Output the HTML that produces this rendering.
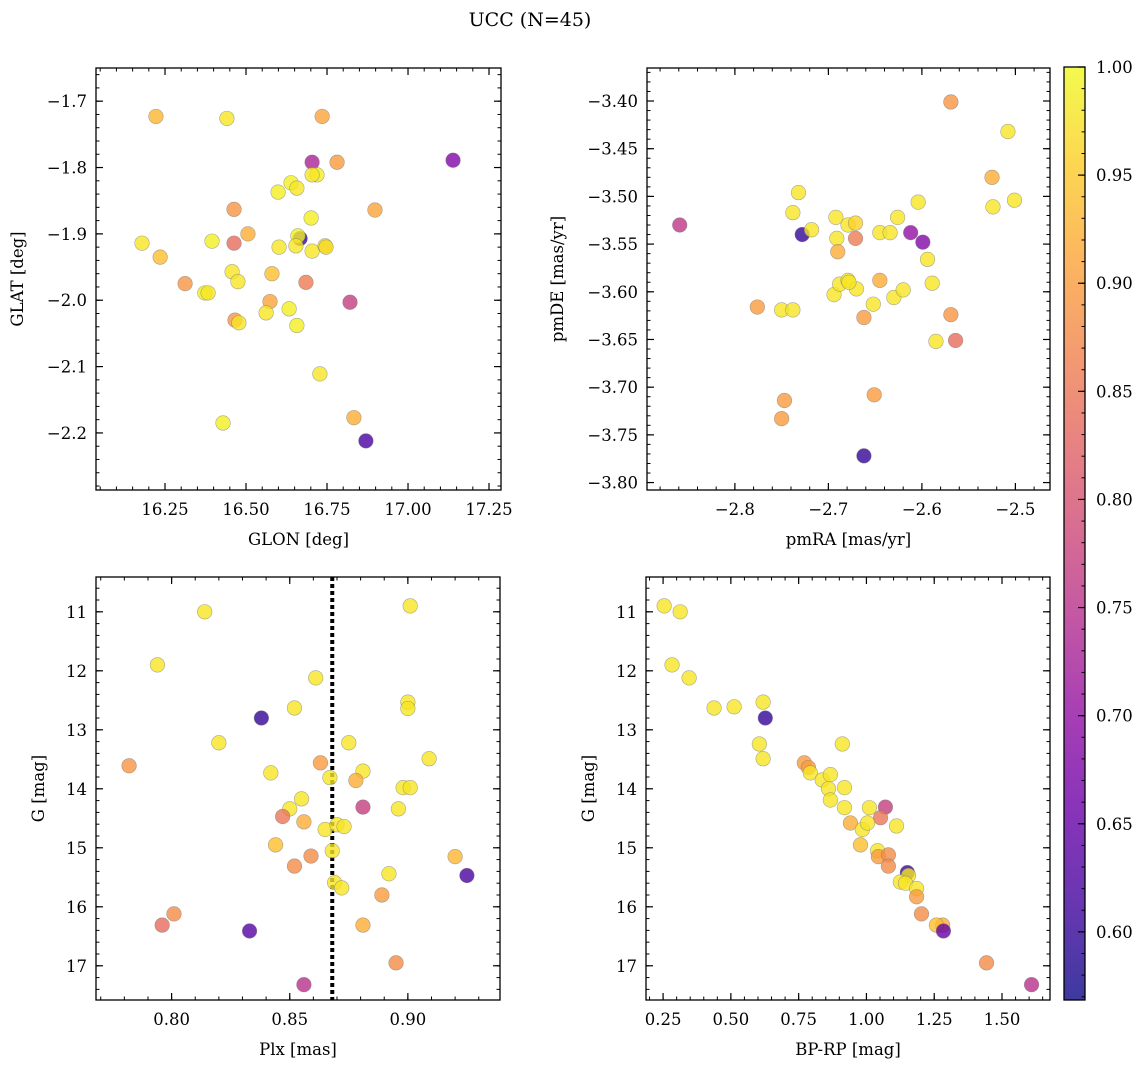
<!DOCTYPE html>
<html><head><meta charset="utf-8"><style>
html,body{margin:0;padding:0;background:#fff;}
svg{display:block;font-family:"DejaVu Serif","Liberation Serif",serif;}
</style></head><body>
<svg id="fig" width="1148" height="1067" viewBox="0 0 1148 1067" xmlns="http://www.w3.org/2000/svg">
<text x="530" y="26" font-size="19" text-anchor="middle">UCC (N=45)</text>
</svg>
<script>
// ---- Panel 1: GLON vs GLAT ----
const glonVals=[16.667,16.222,16.441,16.735,17.139,16.704,16.781,16.719,16.704,16.639,16.657,16.599,16.463,16.898,16.701,16.179,16.395,16.463,16.506,16.660,16.654,16.602,16.235,16.704,16.744,16.312,16.457,16.580,16.475,16.685,16.373,16.383,16.574,16.821,16.562,16.633,16.466,16.478,16.657,16.728,16.833,16.429,16.870,16.747];
const glatVals=[-1.907,-1.723,-1.726,-1.723,-1.789,-1.792,-1.792,-1.811,-1.811,-1.823,-1.831,-1.837,-1.863,-1.864,-1.876,-1.914,-1.911,-1.914,-1.900,-1.903,-1.918,-1.920,-1.935,-1.926,-1.918,-1.975,-1.957,-1.960,-1.972,-1.973,-1.989,-1.989,-2.002,-2.003,-2.019,-2.013,-2.030,-2.034,-2.038,-2.111,-2.177,-2.185,-2.212,-1.920];
const probP1=[0.60,0.93,0.98,0.91,0.68,0.73,0.90,0.99,0.98,0.99,0.98,0.99,0.89,0.91,0.99,0.98,0.99,0.84,0.92,0.99,0.98,0.98,0.94,0.98,0.97,0.89,0.98,0.94,0.98,0.86,0.99,0.98,0.91,0.77,0.98,0.99,0.89,0.98,0.99,0.98,0.92,0.99,0.62,0.97];
const glonTicks=[16.25,16.50,16.75,17.00,17.25];
const glatTicks=[-1.7,-1.8,-1.9,-2.0,-2.1,-2.2];
// ---- Panel 2: pmRA vs pmDE ----
const pmraVals=[-2.569,-2.508,-2.525,-2.524,-2.501,-2.859,-2.732,-2.738,-2.728,-2.718,-2.692,-2.679,-2.671,-2.671,-2.691,-2.690,-2.645,-2.634,-2.626,-2.604,-2.612,-2.599,-2.594,-2.589,-2.585,-2.569,-2.564,-2.776,-2.750,-2.738,-2.694,-2.688,-2.679,-2.670,-2.645,-2.662,-2.652,-2.630,-2.620,-2.651,-2.747,-2.750,-2.662,-2.678];
const pmdeVals=[-3.401,-3.432,-3.480,-3.511,-3.504,-3.530,-3.496,-3.517,-3.540,-3.535,-3.522,-3.530,-3.528,-3.544,-3.544,-3.558,-3.538,-3.538,-3.522,-3.506,-3.538,-3.548,-3.566,-3.591,-3.652,-3.624,-3.651,-3.616,-3.619,-3.619,-3.603,-3.592,-3.588,-3.597,-3.588,-3.627,-3.613,-3.606,-3.598,-3.708,-3.714,-3.733,-3.772,-3.590];
const probP2=[0.89,0.98,0.92,0.98,0.98,0.76,0.98,0.98,0.60,0.98,0.98,0.98,0.96,0.86,0.98,0.92,0.98,0.98,0.98,0.98,0.70,0.68,0.98,0.98,0.98,0.89,0.84,0.90,0.98,0.98,0.98,0.98,0.98,0.98,0.92,0.90,0.98,0.98,0.98,0.90,0.90,0.90,0.60,0.98];
const pmraTicks=[-2.8,-2.7,-2.6,-2.5];
const pmdeTicks=[-3.40,-3.45,-3.50,-3.55,-3.60,-3.65,-3.70,-3.75,-3.80];
// ---- Panel 3: Plx vs G ----
const plxVals=[0.901,0.814,0.794,0.861,0.900,0.900,0.852,0.838,0.820,0.875,0.909,0.782,0.863,0.867,0.842,0.881,0.878,0.898,0.901,0.896,0.881,0.855,0.850,0.847,0.856,0.844,0.859,0.852,0.865,0.870,0.873,0.868,0.920,0.925,0.892,0.869,0.872,0.889,0.881,0.801,0.796,0.833,0.895,0.856];
const gValsP3=[10.90,11.00,11.90,12.12,12.53,12.64,12.63,12.80,13.22,13.22,13.49,13.61,13.56,13.81,13.73,13.70,13.86,13.98,13.98,14.34,14.31,14.17,14.34,14.47,14.56,14.95,15.14,15.31,14.69,14.61,14.64,15.05,15.15,15.47,15.44,15.59,15.68,15.80,16.31,16.12,16.31,16.41,16.95,17.32];
const probP3=[0.98,0.98,0.98,0.98,0.98,0.98,0.98,0.60,0.98,0.98,0.98,0.89,0.90,0.98,0.98,0.98,0.92,0.98,0.98,0.98,0.77,0.98,0.98,0.85,0.92,0.94,0.88,0.88,0.98,0.98,0.98,0.98,0.93,0.62,0.98,0.98,0.98,0.90,0.92,0.88,0.84,0.63,0.88,0.75];
const plxTicks=[0.80,0.85,0.90];
const plxMedian=[0.868];
const gTicks=[11,12,13,14,15,16,17];
// ---- Panel 4: BP-RP vs G ----
const bprpVals=[0.254,0.313,0.283,0.346,0.438,0.512,0.619,0.627,0.605,0.619,0.771,0.786,0.793,0.911,0.837,0.867,0.860,0.867,0.919,0.919,0.941,1.011,1.070,1.052,1.111,0.985,1.004,0.978,1.041,1.044,1.081,1.081,1.151,1.155,1.125,1.144,1.185,1.185,1.203,1.281,1.258,1.284,1.443,1.609];
const gValsP4=[10.90,11.00,11.90,12.12,12.63,12.61,12.53,12.80,13.24,13.49,13.56,13.64,13.73,13.24,13.85,13.76,14.00,14.19,13.98,14.32,14.58,14.32,14.31,14.49,14.63,14.69,14.58,14.95,15.05,15.15,15.12,15.31,15.42,15.47,15.58,15.60,15.69,15.83,16.12,16.31,16.31,16.41,16.95,17.32];
const probP4=[0.98,0.98,0.98,0.98,0.98,0.98,0.98,0.60,0.98,0.98,0.90,0.90,0.98,0.98,0.98,0.98,0.98,0.98,0.98,0.98,0.92,0.98,0.77,0.85,0.98,0.98,0.98,0.94,0.98,0.90,0.88,0.88,0.60,0.98,0.98,0.98,0.98,0.90,0.88,0.92,0.94,0.65,0.88,0.75];
const bprpTicks=[0.25,0.50,0.75,1.00,1.25,1.50];
// ---- Colorbar ----
const cbarTicks=[1.00,0.95,0.90,0.85,0.80,0.75,0.70,0.65,0.60];
const cbarRange=[0.5685,1.0];

const NS="http://www.w3.org/2000/svg";
const svg=document.getElementById('fig');
function mk(tag,attrs,parent){const e=document.createElementNS(NS,tag);for(const k in attrs)e.setAttribute(k,attrs[k]);(parent||svg).appendChild(e);return e;}
const plasma=[[13,8,135],[65,4,157],[106,0,168],[143,13,164],[177,42,144],[204,71,120],[225,100,98],[242,132,75],[252,166,54],[252,206,37],[240,249,33]];
function cmap(v){let t=(v-cbarRange[0])/(cbarRange[1]-cbarRange[0]);t=Math.max(0,Math.min(1,t));const f=t*10,i=Math.min(9,Math.floor(f)),r=f-i;const a=plasma[i],b=plasma[i+1];return 'rgb('+a.map((c,k)=>Math.round(c+(b[k]-c)*r)).join(',')+')';}
function fmt(v,d){return (v<0?'\u2212':'')+Math.abs(v).toFixed(d);}
const TF=16.5, LF=16.5;

function panel(o){
  const g=mk('g',{});
  
  
  const sx=v=>o.L+(v-o.xd[0])/(o.xd[1]-o.xd[0])*(o.R-o.L);
  const sy=v=>o.T+(v-o.yd[0])/(o.yd[1]-o.yd[0])*(o.B-o.T);
  const eps=1e-9;
  let lo=Math.min(o.xd[0],o.xd[1]),hi=Math.max(o.xd[0],o.xd[1]);
  for(let v=Math.ceil(lo/o.xm-eps)*o.xm;v<=hi+eps;v+=o.xm){const x=sx(v);
    mk('line',{x1:x,x2:x,y1:o.B,y2:o.B-3.5,stroke:'#000','stroke-width':1},g);
    mk('line',{x1:x,x2:x,y1:o.T,y2:o.T+3.5,stroke:'#000','stroke-width':1},g);}
  lo=Math.min(o.yd[0],o.yd[1]);hi=Math.max(o.yd[0],o.yd[1]);
  for(let v=Math.ceil(lo/o.ym-eps)*o.ym;v<=hi+eps;v+=o.ym){const y=sy(v);
    mk('line',{x1:o.L,x2:o.L+3.5,y1:y,y2:y,stroke:'#000','stroke-width':1},g);
    mk('line',{x1:o.R,x2:o.R-3.5,y1:y,y2:y,stroke:'#000','stroke-width':1},g);}
  o.xt.forEach(v=>{const x=sx(v);
    mk('line',{x1:x,x2:x,y1:o.B,y2:o.B-7,stroke:'#000','stroke-width':1.2},g);
    mk('line',{x1:x,x2:x,y1:o.T,y2:o.T+7,stroke:'#000','stroke-width':1.2},g);
    const t=mk('text',{x:x,y:o.B+25,'font-size':TF,'text-anchor':'middle'},g);t.textContent=fmt(v,o.xdp);
    
    });
  o.yt.forEach(v=>{const y=sy(v);
    mk('line',{x1:o.L,x2:o.L+7,y1:y,y2:y,stroke:'#000','stroke-width':1.2},g);
    mk('line',{x1:o.R,x2:o.R-7,y1:y,y2:y,stroke:'#000','stroke-width':1.2},g);
    const t=mk('text',{x:o.L-9,y:y+6,'font-size':TF,'text-anchor':'end'},g);t.textContent=fmt(v,o.ydp);
    
    });
  if(o.vline){o.vline.forEach(v=>{const x=sx(v);const l=mk('line',{x1:x,x2:x,y1:o.T,y2:o.B,stroke:'#000','stroke-width':4,'stroke-dasharray':'4,3'},g);
    
    });}
  for(let i=0;i<o.x.length;i++){
    const c=mk('circle',{cx:sx(o.x[i]),cy:sy(o.y[i]),r:7.3,fill:cmap(o.p[i]),'fill-opacity':0.8,stroke:'#777','stroke-opacity':0.6,'stroke-width':0.6},g);
    
    
  }
  const fr=mk('rect',{x:o.L,y:o.T,width:o.R-o.L,height:o.B-o.T,fill:'none',stroke:'#000','stroke-width':1.3},g);
  
  
  const xl=mk('text',{x:(o.L+o.R)/2,y:o.B+55,'font-size':LF,'text-anchor':'middle'},g);xl.textContent=o.xlab;
  
  
  const yx=o.ylx,yy=(o.T+o.B)/2;
  const yl=mk('text',{x:yx,y:yy,'font-size':LF,'text-anchor':'middle',transform:'rotate(-90 '+yx+' '+yy+')'},g);yl.textContent=o.ylab;
  
  
}
panel({name:'glon-glat-panel',L:96,R:501,T:68,B:490,xd:[16.037,17.287],yd:[-1.650,-2.286],xt:glonTicks,yt:glatTicks,xm:0.05,ym:0.02,xdp:2,ydp:1,x:glonVals,y:glatVals,p:probP1,xlab:'GLON [deg]',ylab:'GLAT [deg]',ylx:23});
panel({name:'pm-panel',L:647,R:1050,T:68,B:490,xd:[-2.894,-2.463],yd:[-3.3654,-3.8078],xt:pmraTicks,yt:pmdeTicks,xm:0.02,ym:0.01,xdp:1,ydp:2,x:pmraVals,y:pmdeVals,p:probP2,xlab:'pmRA [mas/yr]',ylab:'pmDE [mas/yr]',ylx:563});
panel({name:'plx-g-panel',L:96,R:500,T:577,B:1000,xd:[0.768,0.939],yd:[10.41,17.58],xt:plxTicks,yt:gTicks,xm:0.01,ym:0.2,xdp:2,ydp:0,x:plxVals,y:gValsP3,p:probP3,xlab:'Plx [mas]',ylab:'G [mag]',ylx:44,vline:plxMedian});
panel({name:'cmd-panel',L:646,R:1050,T:577,B:1000,xd:[0.187,1.677],yd:[10.41,17.58],xt:bprpTicks,yt:gTicks,xm:0.05,ym:0.2,xdp:2,ydp:0,x:bprpVals,y:gValsP4,p:probP4,xlab:'BP-RP [mag]',ylab:'G [mag]',ylx:594});

(function(){
  const L=1064,R=1085,T=67,B=1000;
  const g=mk('g',{});
  
  
  const defs=mk('defs',{},g);
  const lg=mk('linearGradient',{id:'cbg',x1:0,y1:1,x2:0,y2:0},defs);
  for(let i=0;i<=20;i++){mk('stop',{offset:(i/20),'stop-color':cmap(cbarRange[0]+(cbarRange[1]-cbarRange[0])*i/20),'stop-opacity':0.8},lg);}
  mk('rect',{x:L,y:T,width:R-L,height:B-T,fill:'url(#cbg)'},g);
  const sy=v=>T+(cbarRange[1]-v)/(cbarRange[1]-cbarRange[0])*(B-T);
  for(let v=0.57;v<=1.0001;v+=0.01){const y=sy(v);mk('line',{x1:R,x2:R-3.5,y1:y,y2:y,stroke:'#000','stroke-width':1},g);}
  cbarTicks.forEach(v=>{const y=sy(v);mk('line',{x1:R,x2:R-7,y1:y,y2:y,stroke:'#000','stroke-width':1.2},g);
    const t=mk('text',{x:R+11,y:y+6,'font-size':TF},g);t.textContent=v.toFixed(2);
    
    });
  mk('rect',{x:L,y:T,width:R-L,height:B-T,fill:'none',stroke:'#000','stroke-width':1.3},g);
})();
</script>
</body></html>
